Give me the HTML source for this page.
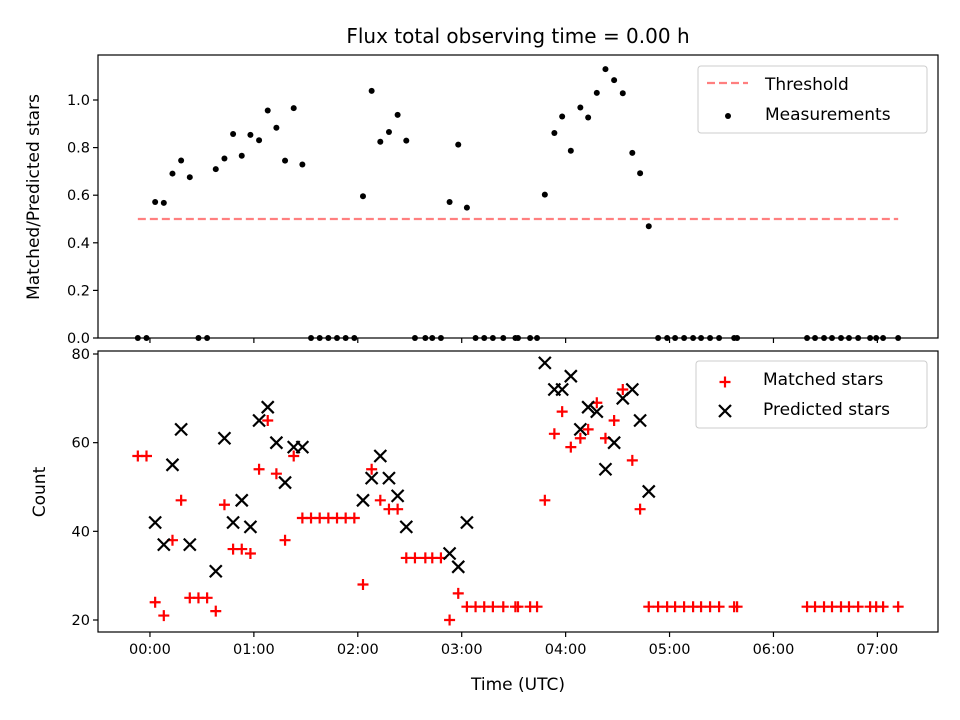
<!DOCTYPE html>
<html><head><meta charset="utf-8"><style>
html,body{margin:0;padding:0;background:#fff;}
svg{display:block;font-family:"DejaVu Sans","Liberation Sans",sans-serif;}
</style></head><body>
<svg id="fig" width="960" height="720" viewBox="0 0 960 720" xmlns="http://www.w3.org/2000/svg">
<rect width="960" height="720" fill="#fff"/>
<text x="518" y="43" font-size="20" text-anchor="middle">Flux total observing time = 0.00 h</text>
<g id="topPanel"></g>
<g id="botPanel"></g>
<text x="518" y="690" font-size="17" text-anchor="middle">Time (UTC)</text>
<text transform="translate(39,197) rotate(-90)" font-size="17" text-anchor="middle">Matched/Predicted stars</text>
<text transform="translate(45,492) rotate(-90)" font-size="17" text-anchor="middle">Count</text>
</svg>
<script>
// time in minutes after 00:00 UTC
const times = [-7,-2,3,8,13,18,23,28,33,38,43,48,53,58,63,68,73,78,83,88,93,98,103,108,113,118,123,128,133,138,143,148,153,159,163,168,173,178,183,188,193,198,204,211,212.5,219.5,223.5,228,233.5,238,243,248.5,253,258,263,268,273,278.5,283,288,293.4,298.6,303.2,308.4,313.6,318.2,323.4,328.6,337.3,339,379.4,384,389.2,393.8,399,403.6,408.9,415.8,419.3,423.3,432];
const matched = [57,57,24,21,38,47,25,25,25,22,46,36,36,35,54,65,53,38,57,43,43,43,43,43,43,43,28,54,47,45,45,34,34,34,34,34,20,26,23,23,23,23,23,23,23,23,23,47,62,67,59,61,63,69,61,65,72,56,45,23,23,23,23,23,23,23,23,23,23,23,23,23,23,23,23,23,23,23,23,23,23];
const predicted = [null,null,42,37,55,63,37,null,null,31,61,42,47,41,65,68,60,51,59,59,null,null,null,null,null,null,47,52,57,52,48,41,null,null,null,null,35,32,42,null,null,null,null,null,null,null,null,78,72,72,75,63,68,67,54,60,70,72,65,49,null,null,null,null,null,null,null,null,null,null,null,null,null,null,null,null,null,null,null,null,null];
const threshold = 0.5;
const xTicks = [0,60,120,180,240,300,360,420];
const xTickLabels = ["00:00","01:00","02:00","03:00","04:00","05:00","06:00","07:00"];
const topTicks = [0,0.2,0.4,0.6,0.8,1.0];
const botTicks = [20,40,60,80];

const NS="http://www.w3.org/2000/svg";
function mk(p,t,a){const e=document.createElementNS(NS,t);for(const k in a)e.setAttribute(k,a[k]);p.appendChild(e);return e;}
const L=98,R=938;
const x=m=>L+(m+30)*(R-L)/485;
const yTop=v=>338-v*238;
const yBot=v=>620-(v-20)*266/60;
const topG=document.getElementById('topPanel'), botG=document.getElementById('botPanel');

function axes(g,y0,y1,ticks,yf,fmt,labelsX){
  for(let i=0;i<xTicks.length;i++){
    const xx=x(xTicks[i]);
    const t=mk(g,'line',{x1:xx,x2:xx,y1:y1,y2:y1+5,stroke:'#000','stroke-width':1.2});
    
    
    if(labelsX){const tl=mk(g,'text',{x:xx,y:y1+22,'font-size':14.5,'text-anchor':'middle'});tl.textContent=xTickLabels[i];
      
      }
  }
  ticks.forEach(v=>{const yy=yf(v);
    const t=mk(g,'line',{x1:L-5,x2:L,y1:yy,y2:yy,stroke:'#000','stroke-width':1.2});
    
    
    const tl=mk(g,'text',{x:L-8,y:yy+5,'font-size':14.5,'text-anchor':'end'});tl.textContent=fmt(v);
    
    });
}
function frame(g,y0,y1){const r=mk(g,'rect',{x:L,y:y0,width:R-L,height:y1-y0,fill:'none',stroke:'#000','stroke-width':1.2});
  
  }

// top panel
axes(topG,55,338,topTicks,yTop,v=>v.toFixed(1),false);
const tmin=Math.min(...times), tmax=Math.max(...times);
const th=mk(topG,'line',{x1:x(tmin),x2:x(tmax),y1:yTop(threshold),y2:yTop(threshold),stroke:'#ff7f7f','stroke-width':2.2,'stroke-dasharray':'8,4'});


times.forEach((t,i)=>{const r=predicted[i]?matched[i]/predicted[i]:0;
  const c=mk(topG,'circle',{cx:x(t),cy:yTop(r),r:3,fill:'#000'});
  
  });
frame(topG,55,338);

// bottom panel
axes(botG,351,632,botTicks,yBot,v=>String(v),true);
function plus(g,cx,cy){return mk(g,'path',{d:`M${cx-5.5},${cy}H${cx+5.5}M${cx},${cy-5.5}V${cy+5.5}`,stroke:'#f00','stroke-width':2.2,fill:'none'});}
function cross(g,cx,cy){return mk(g,'path',{d:`M${cx-6},${cy-6}L${cx+6},${cy+6}M${cx-6},${cy+6}L${cx+6},${cy-6}`,stroke:'#000','stroke-width':2.2,fill:'none'});}
times.forEach((t,i)=>{const p=plus(botG,x(t),yBot(matched[i]));
  
  });
times.forEach((t,i)=>{if(predicted[i]==null)return;const p=cross(botG,x(t),yBot(predicted[i]));
  
  });
frame(botG,351,632);

// legends
function legend(g,x0,y0,w,h){return mk(g,'rect',{x:x0,y:y0,width:w,height:h,rx:3,fill:'#fff','fill-opacity':0.8,stroke:'#ccc','stroke-width':1});}
const lg1=mk(topG,'g',{});


legend(lg1,698,66,229,67);
mk(lg1,'line',{x1:707,x2:748,y1:83,y2:83,stroke:'#ff7f7f','stroke-width':2.2,'stroke-dasharray':'8,4'});
mk(lg1,'circle',{cx:728,cy:116,r:3,fill:'#000'});
let t1=mk(lg1,'text',{x:765,y:90,'font-size':17});t1.textContent='Threshold';
let t2=mk(lg1,'text',{x:765,y:120,'font-size':17});t2.textContent='Measurements';
const lg2=mk(botG,'g',{});


legend(lg2,696,361,231,67);
plus(lg2,725,382);cross(lg2,725,411);
let t3=mk(lg2,'text',{x:763,y:385,'font-size':17});t3.textContent='Matched stars';
let t4=mk(lg2,'text',{x:763,y:415,'font-size':17});t4.textContent='Predicted stars';
</script>
</body></html>
